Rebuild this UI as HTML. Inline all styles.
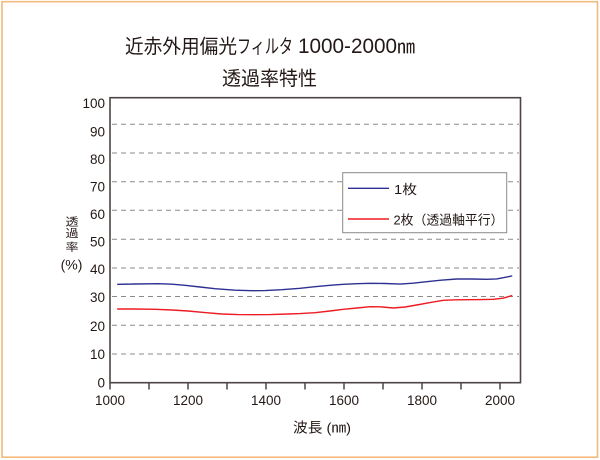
<!DOCTYPE html>
<html><head><meta charset="utf-8"><style>
html,body{margin:0;padding:0;background:#fff;}
svg{display:block;}
text{font-family:"Liberation Sans","Noto Sans CJK JP",sans-serif;fill:#231815;}
</style></head><body>
<svg width="600" height="460" viewBox="0 0 600 460" xmlns="http://www.w3.org/2000/svg">
<rect x="0" y="0" width="600" height="460" fill="#fff"/>
<rect x="2" y="1.7" width="595.5" height="455.5" fill="none" stroke="#f4b97c" stroke-width="1.6"/>

<!-- title -->
<text x="125" y="53" font-size="19.5" textLength="112" lengthAdjust="spacingAndGlyphs">近赤外用偏光</text>
<text x="237" y="53" font-size="19.5" textLength="56" lengthAdjust="spacingAndGlyphs">フィルタ</text>
<text x="298" y="53" font-size="21" textLength="99" lengthAdjust="spacingAndGlyphs">1000-2000</text>
<text x="397" y="53" font-size="19" textLength="18" lengthAdjust="spacingAndGlyphs">㎚</text>
<text x="222" y="85" font-size="19.5" textLength="95" lengthAdjust="spacingAndGlyphs">透過率特性</text>

<!-- gridlines -->
<g stroke="#8a8a8a" stroke-width="1" stroke-dasharray="5,4">
<line x1="112" y1="124.3" x2="519" y2="124.3"/>
<line x1="112" y1="153" x2="519" y2="153"/>
<line x1="112" y1="181.7" x2="519" y2="181.7"/>
<line x1="112" y1="210.3" x2="519" y2="210.3"/>
<line x1="112" y1="239.3" x2="519" y2="239.3"/>
<line x1="112" y1="268" x2="519" y2="268"/>
<line x1="112" y1="296.5" x2="519" y2="296.5"/>
<line x1="112" y1="325.3" x2="519" y2="325.3"/>
<line x1="112" y1="354" x2="519" y2="354"/>
</g>

<!-- frame -->
<rect x="110" y="97.7" width="410.5" height="285" fill="none" stroke="#4d4543" stroke-width="1.6"/>

<!-- ticks -->
<g stroke="#4d4543" stroke-width="1.5">
<line x1="110" y1="382.7" x2="110" y2="389.5"/>
<line x1="149" y1="382.7" x2="149" y2="389.5"/>
<line x1="188" y1="382.7" x2="188" y2="389.5"/>
<line x1="227" y1="382.7" x2="227" y2="389.5"/>
<line x1="266" y1="382.7" x2="266" y2="389.5"/>
<line x1="305" y1="382.7" x2="305" y2="389.5"/>
<line x1="344" y1="382.7" x2="344" y2="389.5"/>
<line x1="383" y1="382.7" x2="383" y2="389.5"/>
<line x1="422" y1="382.7" x2="422" y2="389.5"/>
<line x1="461" y1="382.7" x2="461" y2="389.5"/>
<line x1="500" y1="382.7" x2="500" y2="389.5"/>
</g>

<!-- y labels -->
<g font-size="13.5" text-anchor="end">
<text x="105" y="108">100</text>
<text x="105" y="136.3">90</text>
<text x="105" y="163.8">80</text>
<text x="105" y="191.5">70</text>
<text x="105" y="219">60</text>
<text x="105" y="246.5">50</text>
<text x="105" y="274">40</text>
<text x="105" y="302">30</text>
<text x="105" y="331">20</text>
<text x="105" y="359">10</text>
<text x="105" y="387.3">0</text>
</g>

<!-- x labels -->
<g font-size="13.5" text-anchor="middle">
<text x="110" y="405">1000</text>
<text x="188" y="405">1200</text>
<text x="266" y="405">1400</text>
<text x="344" y="405">1600</text>
<text x="422" y="405">1800</text>
<text x="500" y="405">2000</text>
</g>

<!-- axis titles -->
<text transform="translate(72,225.7) scale(1,0.85)" text-anchor="middle" font-size="13">透</text>
<text transform="translate(72,237) scale(1,0.85)" text-anchor="middle" font-size="13">過</text>
<text transform="translate(72,250.3) scale(1,0.85)" text-anchor="middle" font-size="13">率</text>
<text x="71.5" y="269.5" font-size="14" text-anchor="middle">(%)</text>
<text x="293" y="432.5" font-size="14" textLength="58" lengthAdjust="spacingAndGlyphs">波長 (㎚)</text>

<!-- series -->
<polyline fill="none" stroke="#2e3192" stroke-width="1.4" stroke-linejoin="round" stroke-linecap="round"
points="117.7,284.3 135,284 158.3,283.7 172,284.2 185,285.3 200,287 215,288.7 235,290.2 251.7,290.7 265,290.6 281.7,289.7 300,288.3 315,286.7 330,285.3 343.3,284.3 357,283.7 370,283.3 385,283.5 400,284.1 413,283.2 426.7,281.7 441,280.2 456.7,279 472,279 486.7,279.3 496.7,278.9 504,277.6 511.7,276"/>
<polyline fill="none" stroke="#ed1c24" stroke-width="1.4" stroke-linejoin="round" stroke-linecap="round"
points="117.7,309 135,309 155,309.3 172,310 188,311 205,312.6 221.7,314 238,314.6 255,314.7 270,314.6 288,314 300,313.6 315,312.7 330,311 343.3,309.3 357,308 370,306.7 380,306.8 393.3,308 405,307 416.7,305 430,302.6 443.3,300.3 456,299.8 470,299.7 482,299.6 493.3,299.3 503,298.2 511.7,295.7"/>

<!-- legend -->
<rect x="342.7" y="172.7" width="164" height="60" fill="#fff" stroke="#8a8a8a" stroke-width="1"/>
<line x1="348" y1="188.3" x2="389" y2="188.3" stroke="#2e3192" stroke-width="1.4"/>
<line x1="348" y1="219" x2="389" y2="219" stroke="#ed1c24" stroke-width="1.4"/>
<text x="394" y="194" font-size="13" textLength="23" lengthAdjust="spacingAndGlyphs">1枚</text>
<text x="393.5" y="224.5" font-size="13" textLength="110" lengthAdjust="spacingAndGlyphs">2枚（透過軸平行）</text>
</svg>
</body></html>
